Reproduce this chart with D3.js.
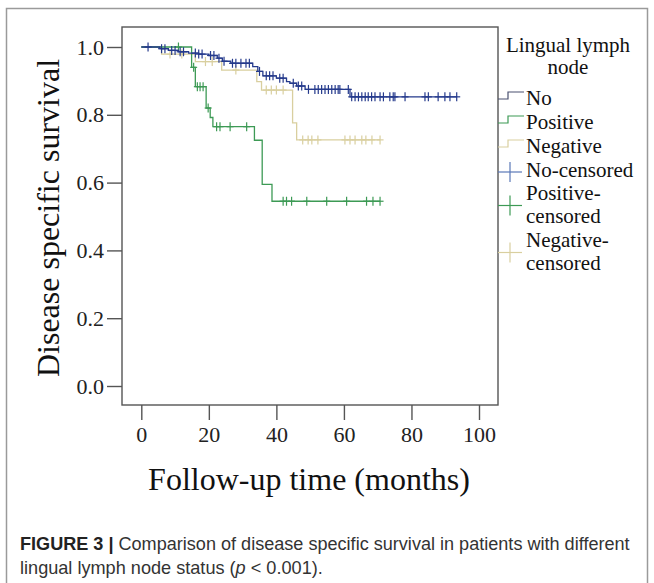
<!DOCTYPE html>
<html><head><meta charset="utf-8">
<script src="https://cdn.jsdelivr.net/npm/d3@7/dist/d3.min.js"></script>
<style>
html,body{margin:0;padding:0;background:#fff;}
svg{display:block;}
</style></head>
<body><svg id="c" width="654" height="583"></svg>
<script>
// ---- data ----
const xTicks = [0, 20, 40, 60, 80, 100];
const yTicks = [0, 0.2, 0.4, 0.6, 0.8, 1.0];

const noTime = [0, 5.5, 8, 11, 14, 17, 20, 22.5, 24, 26.5, 33, 34.5, 36, 40, 43, 44, 46, 48.5, 61.8];
const noSurv = [1, 0.995, 0.99, 0.986, 0.982, 0.979, 0.975, 0.967, 0.958, 0.952, 0.942, 0.928, 0.915, 0.908, 0.898, 0.893, 0.885, 0.875, 0.853];
const noEnd = 93.5;
const noCensor = [2, 6, 7, 9, 10, 11.5, 12.5, 16, 17, 18, 20.5, 21.5, 23, 24.5, 27, 28, 29.5, 31, 32, 35, 37, 38, 39, 41, 42, 45, 46.5, 47.5, 49.5, 51.4, 52.4, 53.4, 54.4, 55.4, 56.4, 57.4, 58.3, 58.8, 61.3, 62.3, 63.3, 64.3, 65.3, 66.3, 67.2, 68.2, 69.2, 70.7, 71.7, 73.6, 74.6, 75.1, 78.1, 84, 85, 87.9, 89.9, 91.4, 93.4];

const posTime = [0, 14.9, 16, 19.2, 20.4, 21.2, 33.5, 35.8, 38.7];
const posSurv = [1, 0.94, 0.883, 0.82, 0.792, 0.765, 0.725, 0.595, 0.545];
const posEnd = 70.7;
const posCensor = [11, 15.5, 16.6, 17.4, 18.3, 19.8, 22.3, 23.3, 26.3, 31.2, 42, 43, 44.5, 49, 54.9, 60.8, 66.7, 68.6, 70.7];

const negTime = [0, 6, 16, 23.8, 34.2, 35.6, 44.8, 46];
const negSurv = [1, 0.979, 0.957, 0.932, 0.898, 0.873, 0.776, 0.726];
const negEnd = 70.7;
const negCensor = [8.5, 12, 19, 21, 28, 37, 38.5, 40, 42, 47.8, 49.4, 50.5, 52.3, 60.3, 61.8, 63.3, 65.3, 66.5, 68.3, 70.7];

const legendTitle = ["Lingual lymph", "node"];
const legendLabels = [["No"], ["Positive"], ["Negative"], ["No-censored"], ["Positive-", "censored"], ["Negative-", "censored"]];
const xTitle = "Follow-up time (months)";
const yTitle = "Disease specific survival";

// ---- drawing ----
const colors = {no: "#253a8c", pos: "#3d9a55", neg: "#d9cf9f"};
const serif = "'Liberation Serif','Times New Roman',serif";
const svg = d3.select("#c");

// outer frame
svg.append("path").attr("d", "M6.5,583 V8.5 H647.5 V583")
  .attr("fill", "none").attr("stroke", "#9a9a9a").attr("stroke-width", 1.5);

const x = d3.scaleLinear().domain([0, 100]).range([141.3, 479]);
const y = d3.scaleLinear().domain([0, 1]).range([386, 47]);

// plot box
const box = {l: 122, r: 498, t: 27, b: 405};
svg.append("rect").attr("x", box.l).attr("y", box.t).attr("width", box.r - box.l).attr("height", box.b - box.t)
  .attr("fill", "#fff").attr("stroke", "#555").attr("stroke-width", 1.4);

const yAx = svg.append("g").attr("transform", `translate(${box.l},0)`)
  .call(d3.axisLeft(y).tickValues(yTicks).tickSize(15).tickPadding(3).tickFormat(d3.format(".1f")));
const xAx = svg.append("g").attr("transform", `translate(0,${box.b})`)
  .call(d3.axisBottom(x).tickValues(xTicks).tickSize(15).tickPadding(6).tickFormat(d3.format("d")));
[yAx, xAx].forEach(g => {
  g.select(".domain").remove();
  g.selectAll("line").attr("stroke", "#555").attr("stroke-width", 1.4);
  g.selectAll("text").attr("font-family", serif).attr("font-size", 22).attr("fill", "#222");
});

// curves
function stepVal(times, surv, t) {
  const i = d3.bisectRight(times, t) - 1;
  return surv[Math.max(0, i)];
}
const line = d3.line().x(d => x(d[0])).y(d => y(d[1])).curve(d3.curveStepAfter);
function drawGroup(times, surv, end, cens, col) {
  const pts = times.map((t, i) => [t, surv[i]]);
  pts.push([end, surv[surv.length - 1]]);
  svg.append("path").datum(pts).attr("d", line)
    .attr("fill", "none").attr("stroke", col).attr("stroke-width", 1.3);
  const g = svg.append("g").attr("stroke", col).attr("stroke-width", 1.2);
  cens.forEach(t => {
    const cx = x(t), cy = y(stepVal(times, surv, t));
    g.append("line").attr("x1", cx).attr("x2", cx).attr("y1", cy - 4.5).attr("y2", cy + 4.5);
    g.append("line").attr("x1", cx - 3.5).attr("x2", cx + 3.5).attr("y1", cy).attr("y2", cy);
  });
}
drawGroup(negTime, negSurv, negEnd, negCensor, colors.neg);
drawGroup(posTime, posSurv, posEnd, posCensor, colors.pos);
drawGroup(noTime, noSurv, noEnd, noCensor, colors.no);

// axis titles
svg.append("text").attr("x", 309).attr("y", 490).attr("text-anchor", "middle")
  .attr("font-family", serif).attr("font-size", 32).attr("fill", "#111").text(xTitle);
svg.append("text").attr("transform", "translate(59,218) rotate(-90)").attr("text-anchor", "middle")
  .attr("font-family", serif).attr("font-size", 32).attr("fill", "#111").text(yTitle);

// legend
const lg = svg.append("g").attr("font-family", serif).attr("font-size", 21).attr("fill", "#111");
legendTitle.forEach((s, i) => lg.append("text").attr("x", 568).attr("y", 52 + i * 22).attr("text-anchor", "middle").text(s));
const baselines = [[105], [129], [153], [177], [200, 223], [247, 270]];
const legCols = ["#4a5070", colors.pos, colors.neg, "#5a78b8", colors.pos, colors.neg];
legendLabels.forEach((lines, i) => {
  lines.forEach((s, j) => lg.append("text").attr("x", 526).attr("y", baselines[i][j]).text(s));
  if (i < 3) {
    const b = baselines[i][0];
    lg.append("path").attr("d", `M498,${b - 6} H508 V${b - 13} H524`)
      .attr("fill", "none").attr("stroke", legCols[i]).attr("stroke-width", 1.2);
  } else {
    const cy = lines.length === 1 ? baselines[i][0] - 5 : (baselines[i][0] + baselines[i][1]) / 2 - 6;
    lg.append("line").attr("x1", 498).attr("x2", 522).attr("y1", cy).attr("y2", cy).attr("stroke", legCols[i]).attr("stroke-width", 1.2);
    lg.append("line").attr("x1", 510).attr("x2", 510).attr("y1", cy - 10).attr("y2", cy + 10).attr("stroke", legCols[i]).attr("stroke-width", 1.2);
  }
});

// caption
const sans = "'Liberation Sans',Arial,Helvetica,sans-serif";
const c1 = svg.append("text").attr("x", 20).attr("y", 550).attr("font-family", sans).attr("font-size", 17).attr("fill", "#333");
c1.append("tspan").attr("font-weight", "bold").attr("fill", "#222").text("FIGURE 3 |");
c1.append("tspan").text(" Comparison of disease specific survival in patients with different");
const c2 = svg.append("text").attr("x", 20).attr("y", 574).attr("font-family", sans).attr("font-size", 17).attr("fill", "#333");
c2.append("tspan").text("lingual lymph node status (");
c2.append("tspan").attr("font-style", "italic").text("p");
c2.append("tspan").text(" < 0.001).");
// fit caption widths to the reference
[[c1, 610], [c2, 303]].forEach(([t, w]) => {
  const L = t.node().getComputedTextLength();
  t.attr("font-size", 17 * w / L);
});
</script></body></html>
